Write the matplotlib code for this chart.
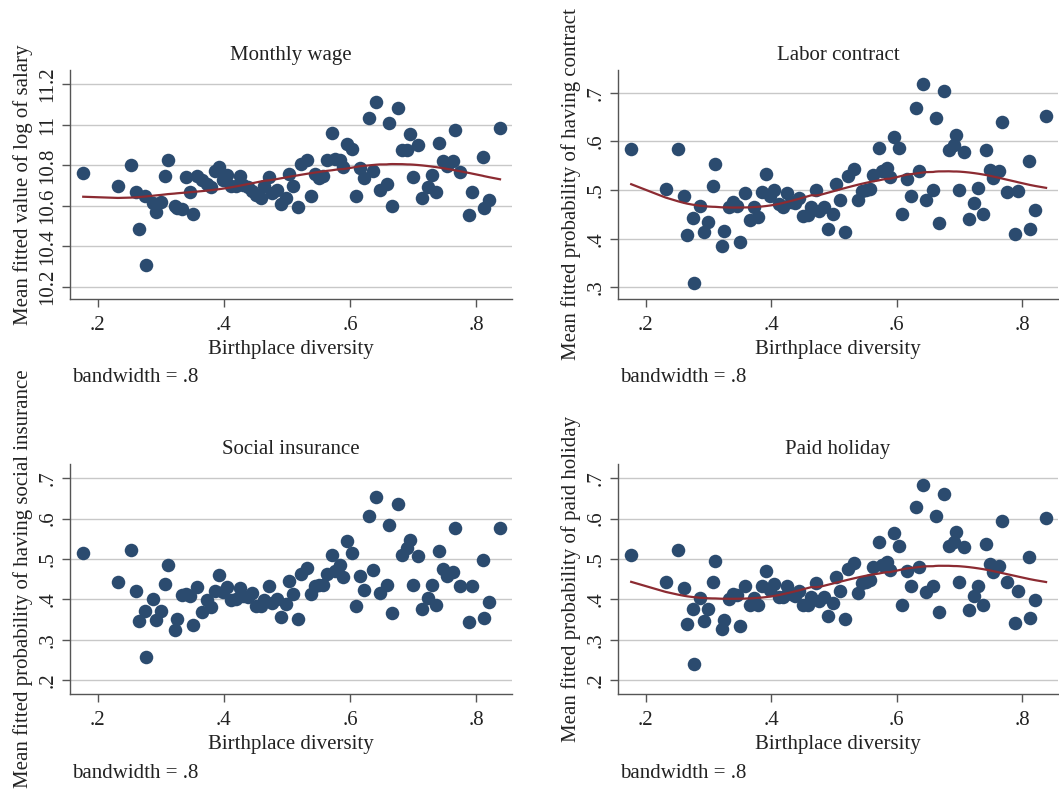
import numpy as np
import matplotlib
matplotlib.use('Agg')
import matplotlib.pyplot as plt

plt.rcParams['font.family'] = ['Liberation Serif', 'DejaVu Serif']

# birthplace diversity (shared by all four panels)
diversity = [0.177, 0.232, 0.252, 0.261, 0.266, 0.275, 0.277, 0.287, 0.293, 0.300,
             0.307, 0.311, 0.322, 0.325, 0.333, 0.340, 0.346, 0.351, 0.358, 0.366,
             0.373, 0.379, 0.386, 0.392, 0.398, 0.405, 0.412, 0.419, 0.425, 0.431,
             0.438, 0.444, 0.451, 0.459, 0.464, 0.471, 0.477, 0.484, 0.491, 0.498,
             0.504, 0.510, 0.517, 0.522, 0.532, 0.539, 0.544, 0.551, 0.558, 0.563,
             0.572, 0.577, 0.584, 0.589, 0.596, 0.604, 0.609, 0.616, 0.623, 0.630,
             0.636, 0.642, 0.647, 0.658, 0.662, 0.667, 0.676, 0.683, 0.691, 0.695,
             0.700, 0.708, 0.715, 0.723, 0.730, 0.737, 0.742, 0.748, 0.754, 0.763,
             0.767, 0.775, 0.789, 0.794, 0.811, 0.812, 0.821, 0.838]

wage = [10.764, 10.700, 10.800, 10.670, 10.484, 10.650, 10.308, 10.616, 10.568, 10.621,
        10.747, 10.826, 10.601, 10.589, 10.584, 10.741, 10.668, 10.560, 10.749, 10.728,
        10.709, 10.695, 10.772, 10.793, 10.729, 10.751, 10.700, 10.698, 10.747, 10.703,
        10.695, 10.673, 10.653, 10.640, 10.698, 10.741, 10.663, 10.678, 10.609, 10.639,
        10.757, 10.698, 10.596, 10.805, 10.826, 10.649, 10.756, 10.736, 10.749, 10.828,
        10.960, 10.830, 10.826, 10.793, 10.905, 10.881, 10.647, 10.788, 10.736, 11.034,
        10.772, 11.111, 10.677, 10.708, 11.011, 10.601, 11.085, 10.876, 10.876, 10.955,
        10.744, 10.902, 10.637, 10.691, 10.751, 10.667, 10.912, 10.823, 10.797, 10.823,
        10.973, 10.769, 10.556, 10.670, 10.841, 10.591, 10.629, 10.983]

contract = [0.584, 0.503, 0.584, 0.488, 0.408, 0.443, 0.308, 0.468, 0.414, 0.434,
            0.508, 0.553, 0.385, 0.416, 0.466, 0.475, 0.468, 0.393, 0.495, 0.438,
            0.466, 0.445, 0.497, 0.534, 0.488, 0.500, 0.471, 0.466, 0.495, 0.476,
            0.474, 0.484, 0.447, 0.448, 0.466, 0.500, 0.456, 0.465, 0.419, 0.451,
            0.512, 0.480, 0.413, 0.528, 0.543, 0.480, 0.498, 0.500, 0.503, 0.531,
            0.586, 0.539, 0.545, 0.526, 0.610, 0.586, 0.450, 0.523, 0.488, 0.669,
            0.540, 0.719, 0.480, 0.500, 0.648, 0.432, 0.703, 0.582, 0.593, 0.613,
            0.501, 0.578, 0.441, 0.473, 0.505, 0.451, 0.582, 0.541, 0.525, 0.540,
            0.641, 0.497, 0.410, 0.498, 0.560, 0.420, 0.459, 0.652]

insurance = [0.516, 0.443, 0.522, 0.422, 0.347, 0.372, 0.258, 0.400, 0.350, 0.372,
             0.437, 0.484, 0.324, 0.352, 0.410, 0.414, 0.408, 0.336, 0.430, 0.369,
             0.399, 0.380, 0.422, 0.460, 0.418, 0.431, 0.399, 0.401, 0.427, 0.408,
             0.407, 0.416, 0.383, 0.384, 0.398, 0.432, 0.391, 0.400, 0.356, 0.388,
             0.445, 0.413, 0.351, 0.462, 0.477, 0.414, 0.432, 0.436, 0.436, 0.463,
             0.511, 0.470, 0.485, 0.456, 0.545, 0.516, 0.383, 0.458, 0.424, 0.607,
             0.473, 0.653, 0.415, 0.436, 0.583, 0.366, 0.637, 0.511, 0.526, 0.546,
             0.435, 0.508, 0.376, 0.404, 0.435, 0.385, 0.520, 0.476, 0.459, 0.468,
             0.577, 0.434, 0.344, 0.434, 0.497, 0.355, 0.394, 0.576]

holiday = [0.511, 0.442, 0.522, 0.427, 0.338, 0.377, 0.240, 0.403, 0.346, 0.376,
           0.443, 0.495, 0.326, 0.350, 0.401, 0.414, 0.410, 0.335, 0.432, 0.386,
           0.403, 0.385, 0.434, 0.471, 0.424, 0.439, 0.405, 0.405, 0.433, 0.414,
           0.409, 0.421, 0.385, 0.387, 0.405, 0.441, 0.396, 0.405, 0.358, 0.391,
           0.455, 0.420, 0.352, 0.476, 0.490, 0.415, 0.441, 0.442, 0.448, 0.480,
           0.542, 0.485, 0.493, 0.474, 0.564, 0.532, 0.386, 0.470, 0.432, 0.628,
           0.480, 0.684, 0.418, 0.432, 0.606, 0.369, 0.662, 0.531, 0.542, 0.567,
           0.444, 0.529, 0.375, 0.408, 0.432, 0.387, 0.536, 0.488, 0.468, 0.482,
           0.593, 0.444, 0.341, 0.422, 0.505, 0.354, 0.399, 0.601]


def lowess(x, y, bw=0.8):
    # Stata-style running-line smoother with tricube weights
    x = np.asarray(x)
    y = np.asarray(y)
    order = np.argsort(x)
    x, y = x[order], y[order]
    n = len(x)
    k = int((n * bw - 0.5) / 2)
    fit = np.zeros(n)
    for i in range(n):
        lo, hi = max(0, i - k), min(n - 1, i + k)
        xs, ys = x[lo:hi + 1], y[lo:hi + 1]
        delta = 1.0001 * max(x[hi] - x[i], x[i] - x[lo])
        w = (1 - (np.abs(xs - x[i]) / delta) ** 3) ** 3
        xm = np.sum(w * xs) / np.sum(w)
        ym = np.sum(w * ys) / np.sum(w)
        b = np.sum(w * (xs - xm) * (ys - ym)) / np.sum(w * (xs - xm) ** 2)
        fit[i] = ym + b * (x[i] - xm)
    return x, fit


W, H = 1059, 792
navy = '#2b4b6f'
maroon = '#8c2b32'
FS = 15

panels = [
    # title, y data, ylabel, yticks, labels, ylim, axes box (px), lowess?
    ('Monthly wage', wage, 'Mean fitted value of log of salary',
     [10.2, 10.4, 10.6, 10.8, 11.0, 11.2], ['10.2', '10.4', '10.6', '10.8', '11', '11.2'],
     (10.140, 11.271), (70, 70, 512, 299), True),
    ('Labor contract', contract, 'Mean fitted probability of having contract',
     [0.3, 0.4, 0.5, 0.6, 0.7], ['.3', '.4', '.5', '.6', '.7'],
     (0.276, 0.747), (618, 70, 1058, 299), True),
    ('Social insurance', insurance, 'Mean fitted probability of having social insurance',
     [0.2, 0.3, 0.4, 0.5, 0.6, 0.7], ['.2', '.3', '.4', '.5', '.6', '.7'],
     (0.166, 0.735), (70, 464, 512, 694), False),
    ('Paid holiday', holiday, 'Mean fitted probability of paid holiday',
     [0.2, 0.3, 0.4, 0.5, 0.6, 0.7], ['.2', '.3', '.4', '.5', '.6', '.7'],
     (0.166, 0.735), (618, 464, 1058, 694), True),
]

fig = plt.figure(figsize=(W / 100, H / 100), dpi=100)

for title, yv, ylab, yt, ytl, ylim, (x0, y0, x1, y1), smooth in panels:
    ax = fig.add_axes([x0 / W, 1 - y1 / H, (x1 - x0) / W, (y1 - y0) / H])
    ax.scatter(diversity, yv, s=95, color=navy, linewidths=0, zorder=3)
    if smooth:
        xs, fit = lowess(diversity, yv)
        ax.plot(xs, fit, color=maroon, lw=1.6, zorder=4)
    ax.set_xlim(0.156, 0.857)
    ax.set_ylim(*ylim)
    ax.set_xticks([0.2, 0.4, 0.6, 0.8])
    ax.set_xticklabels(['.2', '.4', '.6', '.8'])
    ax.set_yticks(yt)
    ax.set_yticklabels(ytl, rotation=90, va='center')
    ax.grid(axis='y', color='#c8c8c8', lw=1.0, zorder=0)
    ax.set_axisbelow(True)
    for s in ['top', 'right']:
        ax.spines[s].set_visible(False)
    for s in ['left', 'bottom']:
        ax.spines[s].set_color('#555555')
        ax.spines[s].set_linewidth(1.0)
    ax.tick_params(colors='#555555', length=6, width=1.0, labelsize=FS,
                   labelcolor='#222222')
    ax.tick_params(axis='x', pad=6)
    ax.tick_params(axis='y', pad=3)
    ax.set_title(title, fontsize=FS, color='#222222', pad=7)
    ax.set_xlabel('Birthplace diversity', fontsize=FS, color='#222222', labelpad=4)
    ax.set_ylabel(ylab, fontsize=FS, color='#222222', labelpad=4)
    fig.text(x0 / W + 2 / W, 1 - (y1 + 79) / H, 'bandwidth = .8', fontsize=FS,
             color='#222222', va='center')

fig.savefig('out.png', dpi=100)
